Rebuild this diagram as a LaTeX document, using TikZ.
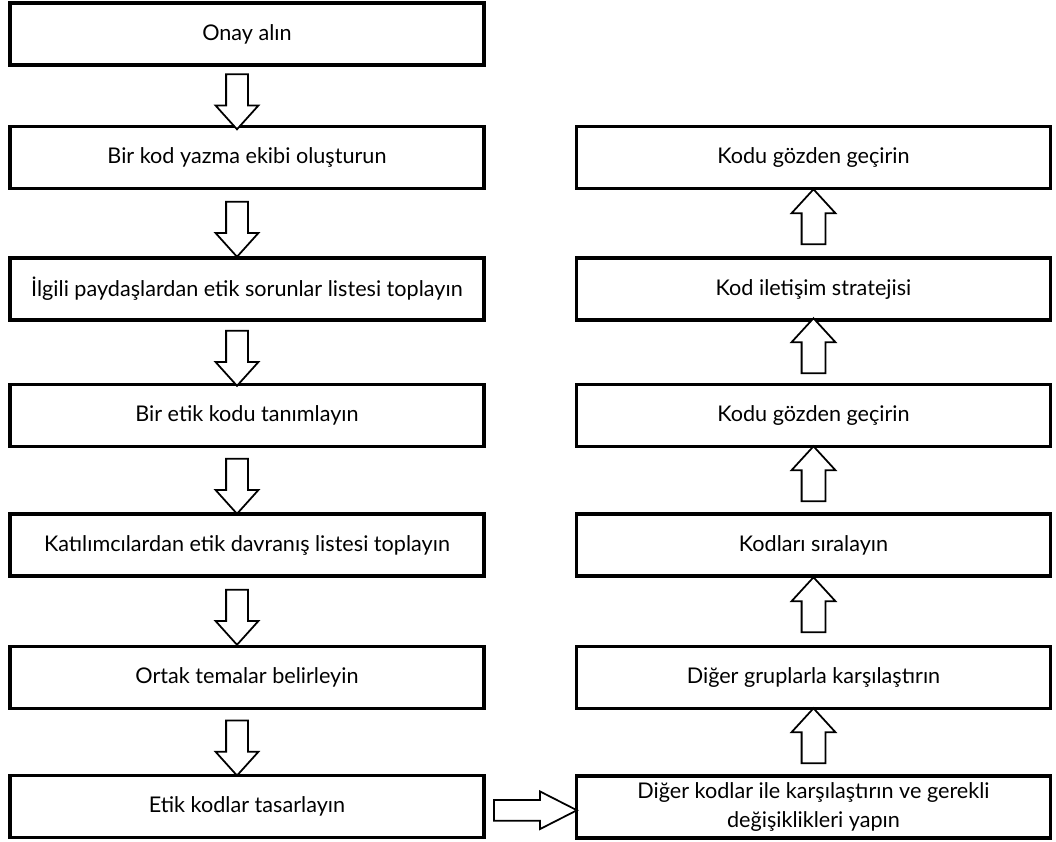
\documentclass[tikz,border=0pt]{standalone}
\usepackage{fontspec}
\setmainfont{Lato}
\usetikzlibrary{shapes.arrows, calc}

\tikzset{
  stepbox/.style={draw, line width=2pt, minimum width=9.48cm, minimum height=1.24cm,
    inner sep=2pt, align=center, font=\fontsize{12.3}{16}\selectfont},
  blockarrow/.style={draw, line width=1pt, fill=white, single arrow, inner xsep=0pt},
  downarrow/.style={blockarrow, rotate=-90, minimum height=1.1cm, inner ysep=0.2cm,
    single arrow head extend=0.21cm, single arrow tip angle=84},
  uparrow/.style={blockarrow, rotate=90, minimum height=1.1cm, inner ysep=0.22cm,
    single arrow head extend=0.2cm, single arrow tip angle=85},
  sidearrow/.style={blockarrow, minimum height=1.66cm, inner ysep=0.19cm,
    single arrow head extend=0.17cm, single arrow tip angle=54}
}

\begin{document}
\begin{tikzpicture}
  \useasboundingbox (0,0) rectangle (21.12,-16.82);

  % Left column
  \node[stepbox] (l1) at (4.94,-0.68)  {Onay alın};
  \node[stepbox] (l2) at (4.94,-3.15)  {Bir kod yazma ekibi oluşturun};
  \node[stepbox] (l3) at (4.94,-5.78)  {İlgili paydaşlardan etik sorunlar listesi toplayın};
  \node[stepbox] (l4) at (4.94,-8.31)  {Bir etik kodu tanımlayın};
  \node[stepbox] (l5) at (4.94,-10.90) {Katılımcılardan etik davranış listesi toplayın};
  \node[stepbox] (l6) at (4.94,-13.55) {Ortak temalar belirleyin};
  \node[stepbox] (l7) at (4.94,-16.13) {Etik kodlar tasarlayın};

  % Right column
  \node[stepbox] (r1) at (16.27,-3.15)  {Kodu gözden geçirin};
  \node[stepbox] (r2) at (16.27,-5.78)  {Kod iletişim stratejisi};
  \node[stepbox] (r3) at (16.27,-8.31)  {Kodu gözden geçirin};
  \node[stepbox] (r4) at (16.27,-10.90) {Kodları sıralayın};
  \node[stepbox] (r5) at (16.27,-13.55) {Diğer gruplarla karşılaştırın};
  \node[stepbox] (r6) at (16.27,-16.14) {Diğer kodlar ile karşılaştırın ve gerekli\\değişiklikleri yapın};

  % Down arrows
  \foreach \a/\b in {l1/l2, l2/l3, l3/l4, l4/l5, l5/l6, l6/l7}
    \node[downarrow] (\a-\b) at ($(\a.south)!0.5!(\b.north)+(-0.2,0)$) {};

  % Up arrows
  \foreach \a/\b in {r6/r5, r5/r4, r4/r3, r3/r2, r2/r1}
    \node[uparrow] (\a-\b) at ($(\a.north)!0.5!(\b.south)$) {};

  % Across
  \node[sidearrow] (l7-r6) at ($(l7.east)!0.5!(r6.west)+(-0.1,-0.07)$) {};
\end{tikzpicture}
\end{document}
